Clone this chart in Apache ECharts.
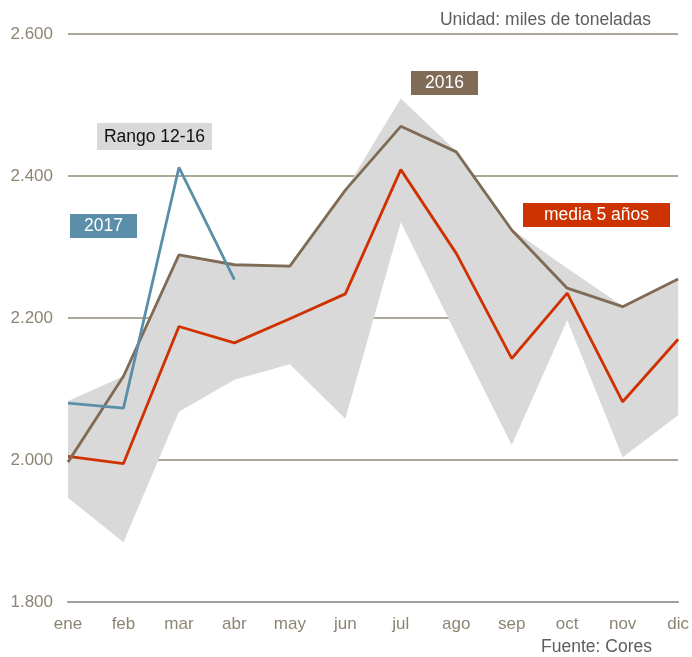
<!DOCTYPE html>
<html>
<head>
<meta charset="utf-8">
<script src="https://cdn.jsdelivr.net/npm/echarts@6/dist/echarts.min.js"></script>
<style>
html,body{margin:0;padding:0;background:#fff;}
#chart{width:692px;height:657px;}
</style>
</head>
<body>
<div id="chart"></div>
<script>
var months = ['ene','feb','mar','abr','may','jun','jul','ago','sep','oct','nov','dic'];
var rangoMin = [1947,1884,2068,2113,2135,2058,2335,2177,2021,2197,2004,2063];
var rangoMax = [2083,2118,2289,2275,2273,2380,2509,2435,2325,2270,2217,2255];
var serie2016 = [1997,2118,2289,2275,2273,2380,2470,2434,2324,2242,2216,2255];
var media5 = [2005,1995,2188,2165,2199,2234,2409,2291,2143,2235,2082,2170];
var serie2017 = [2080,2073,2412,2254];
var yTicks = [1800,2000,2200,2400,2600];

var bandWidth = rangoMax.map(function(v,i){return v - rangoMin[i];});
var FONT = 'Liberation Sans, Arial, sans-serif';

var chart = echarts.init(document.getElementById('chart'), null, {renderer:'canvas'});

function tag(x, y, w, h, bg, color, txt){
  return {
    type:'group', left:x, top:y, silent:true,
    children:[
      {type:'rect', shape:{x:0,y:0,width:w,height:h}, style:{fill:bg}},
      {type:'text', x:w/2, y:h/2+0.5, style:{text:txt, fill:color, font:'17.5px '+FONT, align:'center', verticalAlign:'middle'}}
    ]
  };
}

var option = {
  animation:false,
  backgroundColor:'#fff',
  grid:{left:68, right:12, top:34, bottom:55, containLabel:false},
  xAxis:{
    type:'category', data:months, boundaryGap:false,
    axisLine:{show:true, lineStyle:{color:'#9e9e9e', width:2}},
    axisTick:{show:false},
    axisLabel:{color:'#8c8572', fontSize:17, fontFamily:FONT, margin:14, interval:0},
    splitLine:{show:false}
  },
  yAxis:{
    type:'value', min:yTicks[0], max:yTicks[yTicks.length-1], interval:200,
    axisLine:{show:false}, axisTick:{show:false},
    axisLabel:{color:'#8c8572', fontSize:17, fontFamily:FONT, margin:15,
      formatter:function(v){ return String(v).replace(/(\d)(\d{3})$/,'$1.$2'); }},
    splitLine:{show:true, lineStyle:{color:'#918a74', width:1.5}}
  },
  series:[
    {name:'min', type:'line', data:rangoMin, stack:'rango', symbol:'none',
     lineStyle:{opacity:0}, silent:true, z:1},
    {name:'Rango 12-16', type:'line', data:bandWidth, stack:'rango', symbol:'none',
     lineStyle:{opacity:0}, areaStyle:{color:'#d9d9d9', opacity:1}, silent:true, z:1},
    {name:'media 5 años', type:'line', data:media5, symbol:'none',
     lineStyle:{color:'#cf3100', width:2.8}, z:3},
    {name:'2016', type:'line', data:serie2016, symbol:'none',
     lineStyle:{color:'#7f6b56', width:2.8}, z:4},
    {name:'2017', type:'line', data:serie2017, symbol:'none',
     lineStyle:{color:'#5b8ea9', width:2.8}, z:5}
  ],
  graphic:[
    {type:'text', right:41, top:11, silent:true,
     style:{text:'Unidad: miles de toneladas', fill:'#5e5e5e', font:'17.5px '+FONT}},
    {type:'text', right:40, top:638, silent:true,
     style:{text:'Fuente: Cores', fill:'#5e5e5e', font:'17.5px '+FONT}},
    tag(411, 71, 67, 24, '#7f6b56', '#ffffff', '2016'),
    tag(97, 123, 115, 27, '#d9d9d9', '#111111', 'Rango 12-16'),
    tag(70, 214, 67, 24, '#5b8ea9', '#ffffff', '2017'),
    tag(523, 203, 147, 24, '#cc3300', '#ffffff', 'media 5 años')
  ]
};
chart.setOption(option);
</script>
</body>
</html>
